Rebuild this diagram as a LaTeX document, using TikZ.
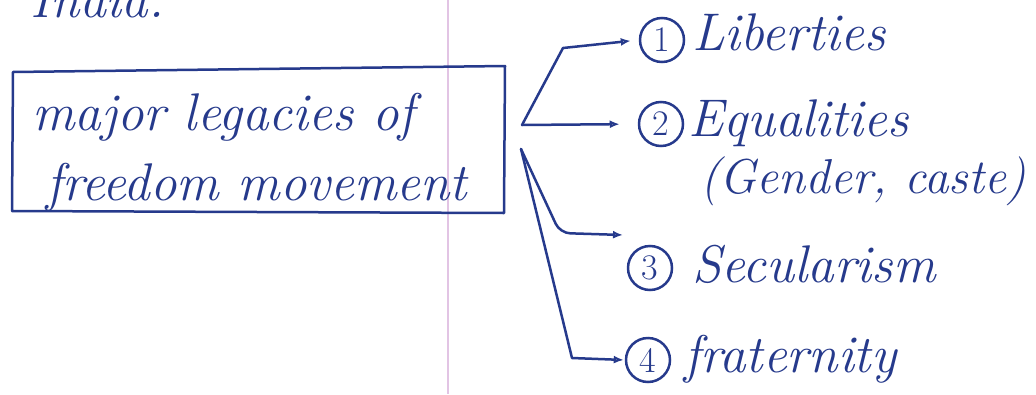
\documentclass[tikz,border=0pt]{standalone}
\usetikzlibrary{arrows.meta}
\definecolor{ink}{RGB}{38,58,140}
\definecolor{marginpink}{RGB}{226,196,228}
\tikzset{
  x=1pt, y=-1pt,
  pen/.style={draw=ink, line width=2.5pt, line cap=round, line join=round},
  arr/.style={pen, -{Latex[length=10pt,width=8pt,open]}},
  hand/.style={text=ink, font=\fontsize{53}{60}\selectfont\itshape, inner sep=0pt, anchor=base west},
  numcirc/.style={circle, draw=ink, line width=2.5pt, text=ink, minimum size=44pt, inner sep=0pt,
                  font=\fontsize{36}{40}\selectfont}
}
\begin{document}
\begin{tikzpicture}
  \useasboundingbox (0,0) rectangle (1036,394);
  \clip (0,0) rectangle (1036,394);
  \fill[white] (0,0) rectangle (1036,394);
  % ruled-paper margin
  \draw[marginpink, line width=2.5pt] (448,0) -- (448,394);

  % heading fragment at the top
  \node[hand] (india) at (30,17) {India.};

  % central box
  \draw[pen] (13,72) -- (505,66) -- (504,213) -- (12,211) -- cycle;
  \node[hand] (l1) at (32,130) {major legacies of};
  \node[hand] (l2) at (46,200) {freedom movement};

  % branch points
  \coordinate (j12) at (522,125);
  \coordinate (j34) at (521,149);
  \coordinate (e3) at (623,235);

  % numbered items
  \node[numcirc] (n1) at (662,40) {1};
  \node[numcirc] (n2) at (661,124) {2};
  \node[numcirc] (n3) at (650,268) {3};
  \node[numcirc] (n4) at (648,360) {4};

  \node[hand] (t1) at (692,50) {Liberties};
  \node[hand] (t2) at (688,136) {Equalities};
  \node[hand, font=\fontsize{49}{56}\selectfont\itshape] (t2b) at (700,193) {(Gender, caste)};
  \node[hand] (t3) at (692,282) {Secularism};
  \node[hand] (t4) at (684,372) {fraternity};

  % connectors
  \draw[arr, shorten >=8pt] (j12) -- (563,48) -- (n1.west);
  \draw[arr, shorten >=18pt] (j12) -- (n2.west);
  \draw[arr, rounded corners=10pt] (j34) -- (560,233) -- (e3);
  \draw[arr, shorten >=1pt] (j34) -- (572,358) -- (n4.west);
\end{tikzpicture}
\end{document}
